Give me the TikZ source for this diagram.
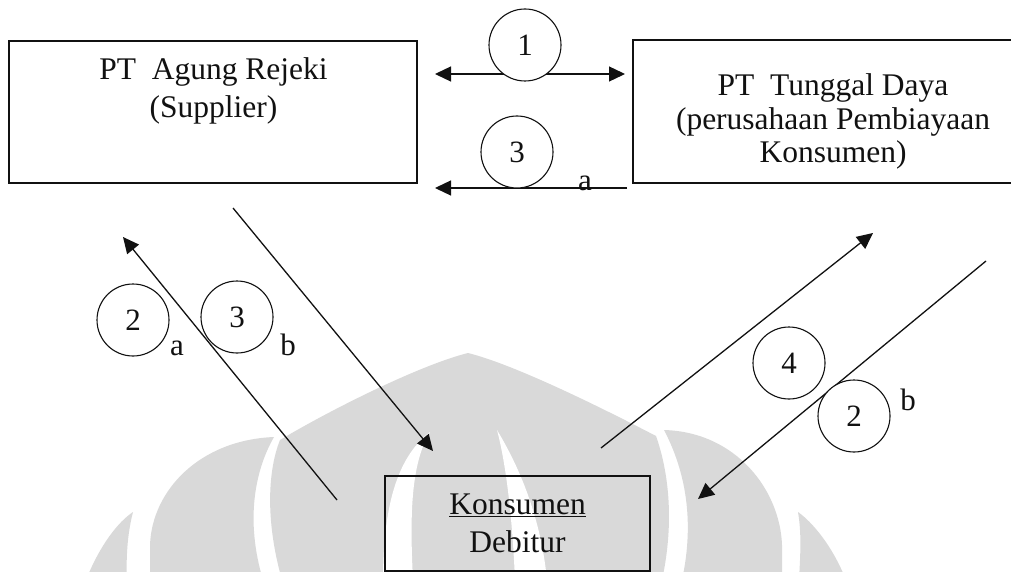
\documentclass[tikz,border=0pt]{standalone}
\usepackage{fontspec}
\setmainfont{Liberation Serif}
\usepackage{xcolor}
\usepackage{tikz}
\usetikzlibrary{arrows.meta}
\definecolor{markgray}{HTML}{D9D9D9}
\definecolor{inkblack}{HTML}{111111}
\tikzset{
  orgbox/.style={draw=inkblack, line width=1.4pt, inner sep=0pt},
  orgtext/.style={align=center, inner sep=0pt, text=inkblack},
  stepno/.style={draw=inkblack, circle, fill=white, line width=1.1pt, minimum size=72pt,
    inner sep=0pt, font=\fontsize{31}{36}\selectfont, text=inkblack},
  subtag/.style={anchor=base, inner sep=0pt, font=\fontsize{31}{36}\selectfont, text=inkblack},
  flow/.style={-{Triangle[length=16pt,width=15pt]}, draw=inkblack, line width=1.3pt},
  logo/.style={fill=markgray}
}

\begin{document}
\begin{tikzpicture}[x=1pt, y=-1pt]
\useasboundingbox (0,0) rectangle (1011,572);
\clip (0,0) rectangle (1011,572);
\fill[white] (0,0) rectangle (1011,572);

% watermark
\fill[logo] (86,580) .. controls (100,545) and (118,522) .. (133,512) .. controls (127,535) and (126,560) .. (127,580) -- cycle;
\fill[logo] (150,580) -- (150,545) .. controls (152,490) and (200,440) .. (274,437) .. controls (255,470) and (245,520) .. (263,580) -- cycle;
\fill[logo] (282,580) .. controls (265,520) and (268,470) .. (280,440) .. controls (330,410) and (420,365) .. (468,353)
  .. controls (516,365) and (606,410) .. (656,436) .. controls (668,470) and (675,520) .. (662,580) -- cycle;
\fill[white] (383,580) .. controls (383,500) and (400,455) .. (430,432) .. controls (410,465) and (410,520) .. (413,580) -- cycle;
\fill[white] (515,580) .. controls (512,510) and (505,460) .. (497,430) .. controls (515,460) and (540,510) .. (547,580) -- cycle;
\fill[logo] (782,580) -- (782,545) .. controls (780,490) and (736,432) .. (664,430) .. controls (685,470) and (695,520) .. (682,580) -- cycle;
\fill[logo] (846,580) .. controls (832,545) and (812,522) .. (798,512) .. controls (802,535) and (800,560) .. (799,580) -- cycle;

% parties
\node[orgbox, minimum width=408pt, minimum height=142pt] (agung) at (213,112) {};
\node[orgtext, anchor=north, font=\fontsize{31.5}{37.5}\selectfont] (agungtxt) at (213.5,57.5) {PT\ \ Agung Rejeki\\(Supplier)};
\node[orgbox, minimum width=398pt, minimum height=143pt] (tunggal) at (832,111.5) {};
\node[orgtext, anchor=north, font=\fontsize{31.5}{33.5}\selectfont] (tunggaltxt) at (833,73.5) {PT\ \ Tunggal Daya\\(perusahaan Pembiayaan\\Konsumen)};
\node[orgbox, orgtext, minimum width=265pt, minimum height=95pt, font=\fontsize{31.5}{38}\selectfont] (konsumen) at (517.5,523.5) {\underline{Konsumen}\\Debitur};

% free ends of the arrows
\coordinate (oneL) at (435,74);
\coordinate (oneR) at (625,74);
\coordinate (threeaS) at (627,188);
\coordinate (threeaE) at (435,188);
\coordinate (twoaS) at (337,500);
\coordinate (twoaE) at (123,237);
\coordinate (threebS) at (233,208);
\coordinate (threebE) at (433,451);
\coordinate (fourS) at (601,448);
\coordinate (fourE) at (873,233);
\coordinate (twobS) at (986,261);
\coordinate (twobE) at (698,499);

\draw[flow, {Triangle[length=16pt,width=15pt]}-{Triangle[length=16pt,width=15pt]}] (oneL) -- (oneR);
\draw[flow] (threeaS) -- (threeaE);
\draw[flow] (twoaS) -- (twoaE);
\draw[flow] (threebS) -- (threebE);
\draw[flow] (fourS) -- (fourE);
\draw[flow] (twobS) -- (twobE);

% step numbers
\node[stepno] (s1) at (525,45) {1};
\node[stepno] (s3a) at (517,152) {3};
\node[stepno] (s2a) at (133,320) {2};
\node[stepno] (s3b) at (237,317) {3};
\node[stepno] (s4) at (789,363) {4};
\node[stepno] (s2b) at (854,416) {2};
\node[subtag] (t3a) at (585,190) {a};
\node[subtag] (t2a) at (177,355) {a};
\node[subtag] (t3b) at (288,355) {b};
\node[subtag] (t2b) at (908,410) {b};
\end{tikzpicture}
\end{document}
